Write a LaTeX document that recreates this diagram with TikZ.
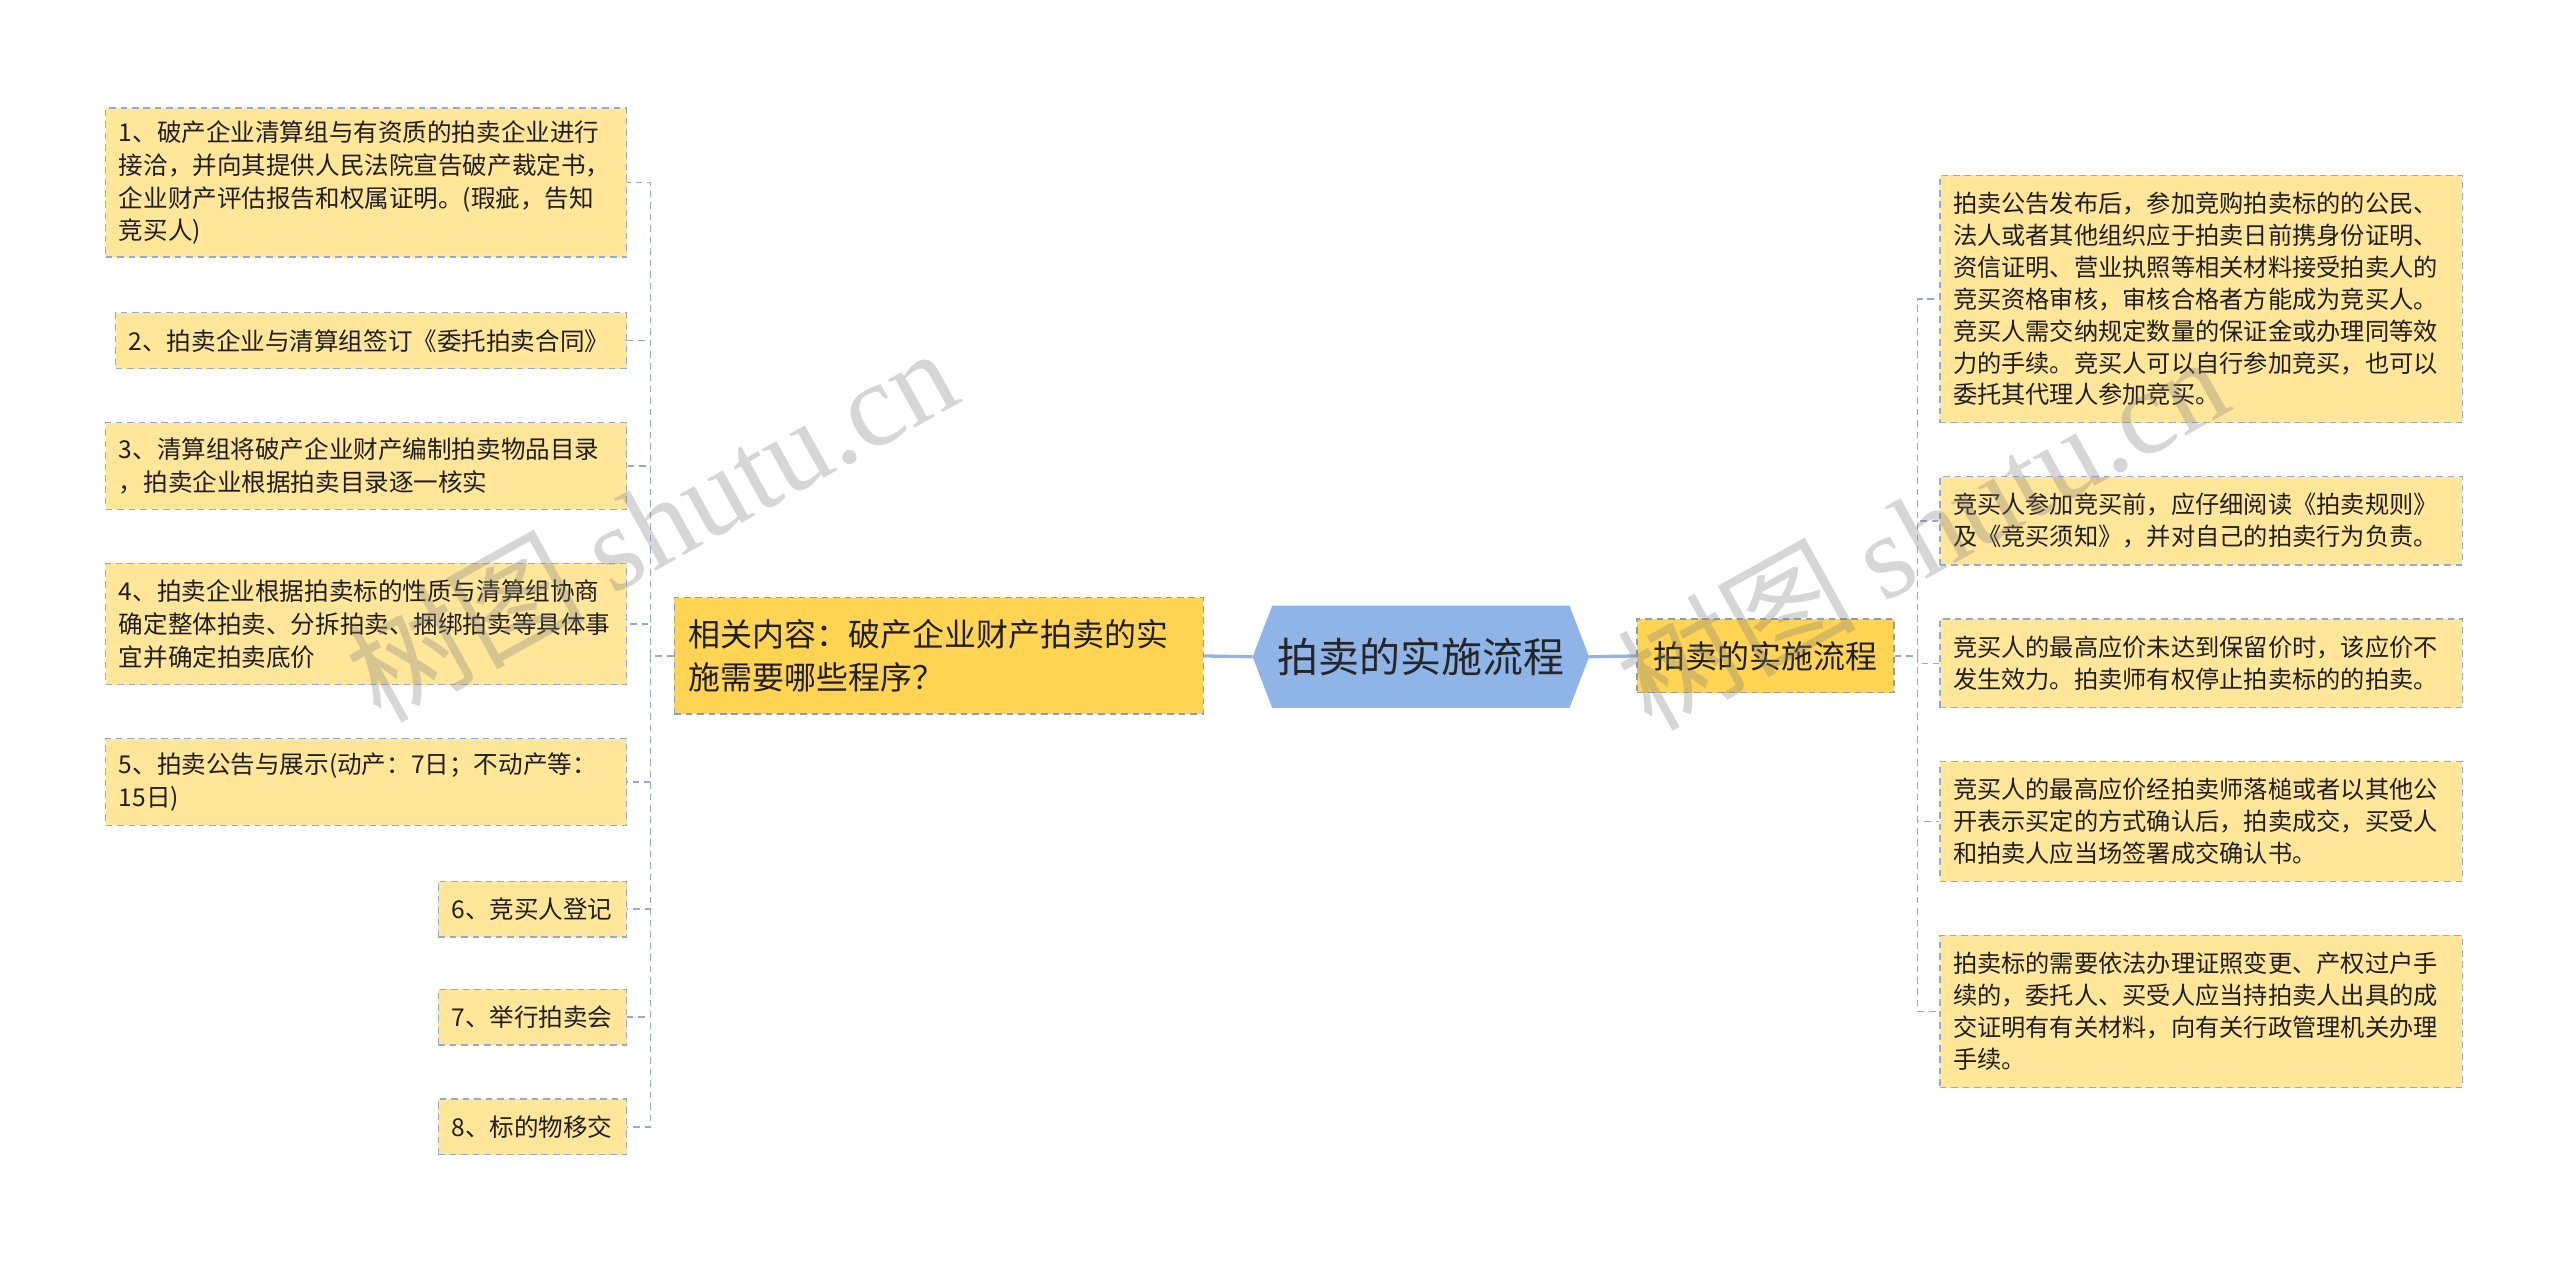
\documentclass[tikz,border=0pt]{standalone}
\usepackage{fontspec}
\setmainfont{Noto Sans CJK SC}
\newfontfamily\wmfont{Liberation Serif}
\usepackage{tikz}
\usetikzlibrary{calc,positioning,shapes.symbols}
\definecolor{leafyellow}{HTML}{FFE699}
\definecolor{midyellow}{HTML}{FFD452}
\definecolor{hubblue}{HTML}{8EB4E8}
\definecolor{linkblue}{HTML}{8FAADC}
\tikzstyle{leaf}  = [rectangle, draw=linkblue, dash pattern=on 4pt off 3pt, line width=0.8pt, fill=leafyellow, inner xsep=8pt, inner ysep=3pt, align=left, text=black!88, font=\fontsize{15}{20}\selectfont]
\tikzstyle{rleaf} = [leaf, font=\fontsize{14.8}{19.5}\selectfont]
\tikzstyle{mid}   = [rectangle, draw=linkblue!70!gray, dash pattern=on 4pt off 3pt, line width=0.8pt, fill=midyellow, inner xsep=9pt, align=left, text=black!88, font=\fontsize{19.5}{26}\selectfont]
\tikzstyle{hub}   = [signal, signal to=west and east, signal pointer angle=138, fill=hubblue, draw=hubblue, inner sep=0pt, minimum width=205pt, minimum height=62pt, text=black!85, font=\fontsize{25}{30}\selectfont]
\tikzstyle{link}  = [draw=linkblue, dash pattern=on 4pt off 3pt, line width=0.8pt]
\tikzstyle{trunk} = [draw=hubblue, line width=2pt]
\tikzstyle{wm}    = [text=gray, opacity=0.32, font=\fontsize{73}{75}\selectfont]

\begin{document}
\begin{tikzpicture}[x=1pt,y=-1pt]
		\useasboundingbox (0,0) rectangle (1563,770);

		\node[hub] (hub) at (867.5,401) {拍卖的实施流程};
		\node[mid, text width=305pt, minimum height=71pt, anchor=east] (rel) at (735,400.5) {相关内容：破产企业财产拍卖的实\\施需要哪些程序？};
		\node[mid, minimum width=157pt, minimum height=45pt, anchor=west] (sub) at (999,400.5) {拍卖的实施流程};

		\node[leaf, text width=302pt, minimum height=91pt, anchor=east] (l1) at (383,111.5) {1、破产企业清算组与有资质的拍卖企业进行\\接洽，并向其提供人民法院宣告破产裁定书，\\企业财产评估报告和权属证明。(瑕疵，告知\\竞买人)};
		\node[leaf, text width=296pt, minimum height=34pt, anchor=east] (l2) at (383,208) {2、拍卖企业与清算组签订《委托拍卖合同》};
		\node[leaf, text width=302pt, minimum height=53pt, anchor=east] (l3) at (383,284.5) {3、清算组将破产企业财产编制拍卖物品目录\\，拍卖企业根据拍卖目录逐一核实};
		\node[leaf, text width=302pt, minimum height=74pt, anchor=east] (l4) at (383,381) {4、拍卖企业根据拍卖标的性质与清算组协商\\确定整体拍卖、分拆拍卖、捆绑拍卖等具体事\\宜并确定拍卖底价};
		\node[leaf, text width=302pt, minimum height=53pt, anchor=east] (l5) at (383,477.5) {5、拍卖公告与展示(动产：7日；不动产等：\\15日)};
		\node[leaf, text width=99pt, minimum height=34pt, anchor=east] (l6) at (383,555) {6、竞买人登记};
		\node[leaf, text width=99pt, minimum height=34pt, anchor=east] (l7) at (383,621) {7、举行拍卖会};
		\node[leaf, text width=99pt, minimum height=34pt, anchor=east] (l8) at (383,688) {8、标的物移交};

		\node[rleaf, text width=303pt, minimum height=151pt, anchor=west] (r1) at (1184,182.5) {拍卖公告发布后，参加竞购拍卖标的的公民、\\法人或者其他组织应于拍卖日前携身份证明、\\资信证明、营业执照等相关材料接受拍卖人的\\竞买资格审核，审核合格者方能成为竞买人。\\竞买人需交纳规定数量的保证金或办理同等效\\力的手续。竞买人可以自行参加竞买，也可以\\委托其代理人参加竞买。};
		\node[rleaf, text width=303pt, minimum height=54pt, anchor=west] (r2) at (1184,318) {竞买人参加竞买前，应仔细阅读《拍卖规则》\\及《竞买须知》，并对自己的拍卖行为负责。};
		\node[rleaf, text width=303pt, minimum height=54pt, anchor=west] (r3) at (1184,405) {竞买人的最高应价未达到保留价时，该应价不\\发生效力。拍卖师有权停止拍卖标的的拍卖。};
		\node[rleaf, text width=303pt, minimum height=73pt, anchor=west] (r4) at (1184,501.5) {竞买人的最高应价经拍卖师落槌或者以其他公\\开表示买定的方式确认后，拍卖成交，买受人\\和拍卖人应当场签署成交确认书。};
		\node[rleaf, text width=303pt, minimum height=93pt, anchor=west] (r5) at (1184,617.5) {拍卖标的需要依法办理证照变更、产权过户手\\续的，委托人、买受人应当持拍卖人出具的成\\交证明有有关材料，向有关行政管理机关办理\\手续。};

		\draw[trunk] (hub.west) -- (rel.east);
		\draw[trunk] (hub.east) -- (sub.west);

		\draw[link] (rel.west) -- ++(-14,0) coordinate (ltrunk);
		\foreach \n in {l1,l2,l3,l4,l5,l6,l7,l8}
			\draw[link] (ltrunk) |- (\n.east);

		\draw[link] (sub.east) -- ++(14,0) coordinate (rtrunk);
		\foreach \n in {r1,r2,r3,r4,r5}
			\draw[link] (rtrunk) |- (\n.west);

		\node[wm, rotate=29] (wmleft) at (397,319) {树图 {\wmfont shutu.cn}};
		\node[wm, rotate=29] (wmright) at (1173,324) {树图 {\wmfont shutu.cn}};
	\end{tikzpicture}
\end{document}
